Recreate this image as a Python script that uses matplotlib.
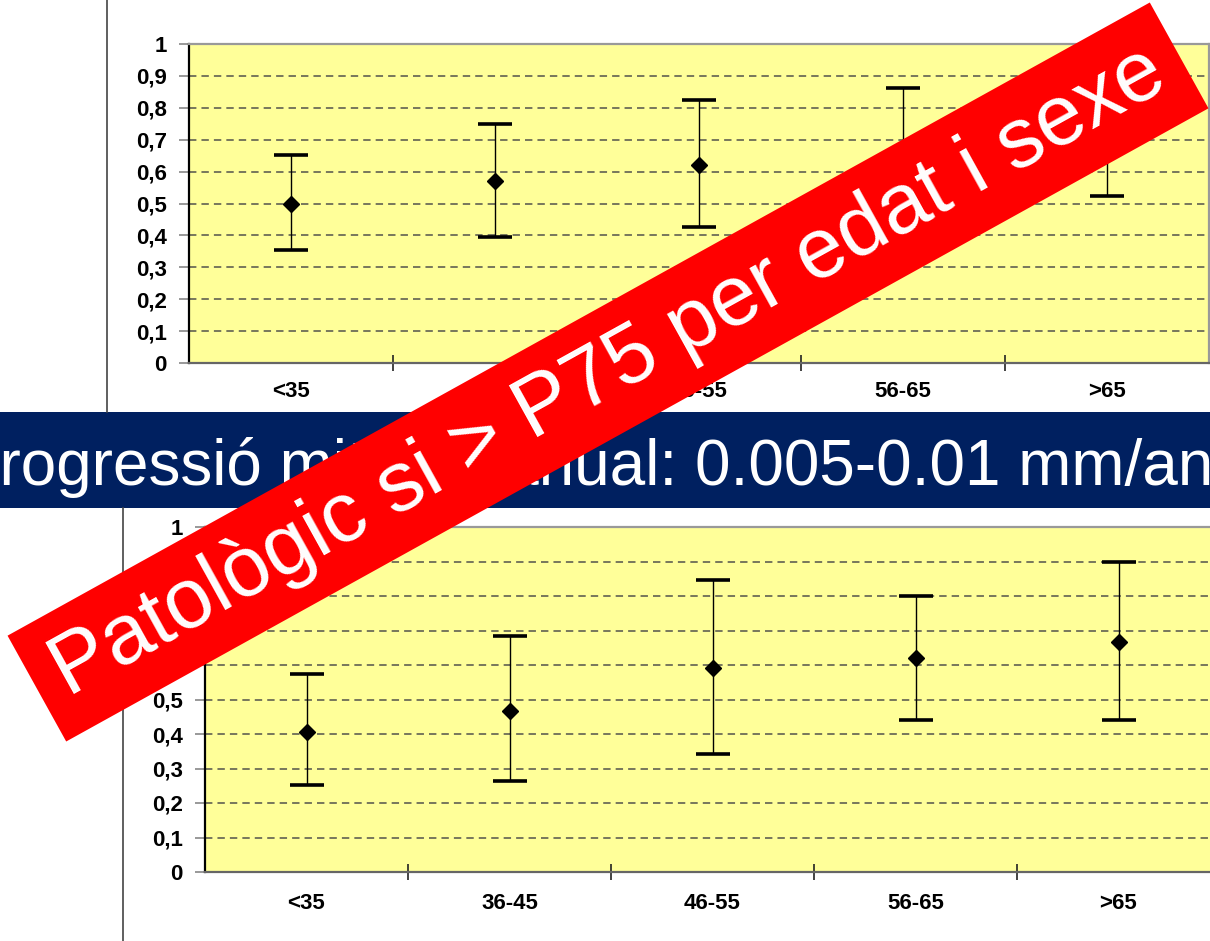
import numpy as np
import matplotlib
matplotlib.use('Agg')
import matplotlib.pyplot as plt
from matplotlib.patches import Rectangle

plt.rcParams['font.family'] = ['Liberation Sans', 'DejaVu Sans']

# Data
categories = ['<35', '36-45', '46-55', '56-65', '>65']
yticks = [0, 0.1, 0.2, 0.3, 0.4, 0.5, 0.6, 0.7, 0.8, 0.9, 1]
ytick_labels = ['0', '0,1', '0,2', '0,3', '0,4', '0,5', '0,6', '0,7', '0,8', '0,9', '1']

top_mean = [0.50, 0.57, 0.62, 0.66, 0.71]
top_low = [0.355, 0.395, 0.425, 0.46, 0.525]
top_high = [0.652, 0.749, 0.824, 0.862, 0.90]

bot_mean = [0.405, 0.467, 0.591, 0.62, 0.667]
bot_low = [0.252, 0.264, 0.342, 0.44, 0.44]
bot_high = [0.574, 0.684, 0.846, 0.80, 0.90]

band_text = 'progressió mitjana anual: 0.005-0.01 mm/any'
banner_text = 'Patològic si > P75 per edat i sexe'

W, H = 1210, 941
fig = plt.figure(figsize=(W / 100, H / 100), dpi=100)


def draw_panel(ax, mean, low, high, label_pad):
    x = np.arange(len(categories))
    mean = np.array(mean)
    err = [mean - np.array(low), np.array(high) - mean]
    ax.set_facecolor('#FFFF99')
    for y in yticks[1:-1]:
        ax.axhline(y, color='#77775c', lw=1.4, dashes=(3.8, 2.6), zorder=1)
    ax.errorbar(x, mean, yerr=err, fmt='D', color='black', ms=8,
                elinewidth=1.0, capsize=12, capthick=2.6, zorder=3)
    ax.set_xlim(-0.5, len(categories) - 0.5)
    ax.set_ylim(0, 1)
    ax.set_yticks(yticks)
    ax.set_yticklabels(ytick_labels, fontsize=16, fontweight='bold')
    ax.tick_params(axis='y', length=7, width=1.2, color='#888888', pad=9)
    ax.set_xticks(x)
    ax.set_xticklabels(categories, fontsize=16, fontweight='bold')
    ax.tick_params(axis='x', which='major', length=0, pad=label_pad)
    ax.set_xticks(np.arange(0.5, len(categories) - 0.5, 1), minor=True)
    ax.tick_params(axis='x', which='minor', direction='inout', length=12,
                   width=1.2, color='#222222')
    ax.spines['left'].set_color('black')
    ax.spines['left'].set_linewidth(1.6)
    for s in ['top', 'right', 'bottom']:
        ax.spines[s].set_color('#999999')
        ax.spines[s].set_linewidth(1.6)
    ax.spines['bottom'].set_color('#666666')


# Top panel
ax1 = fig.add_axes([189 / W, 1 - 363 / H, 1020 / W, 319 / H])
draw_panel(ax1, top_mean, top_low, top_high, 13)

# Bottom panel (right edge runs past the picture)
ax2 = fig.add_axes([205 / W, 1 - 872 / H, 1015 / W, 345 / H])
draw_panel(ax2, bot_mean, bot_low, bot_high, 15)

# Overlay in pixel coordinates for the slide decorations
ov = fig.add_axes([0, 0, 1, 1], zorder=10)
ov.set_xlim(0, W)
ov.set_ylim(0, H)
ov.axis('off')
ov.patch.set_alpha(0)

# left vertical rules
ov.plot([107, 107], [H, H - 412], color='#444444', lw=1.2)
ov.plot([123, 123], [H - 508, 0], color='#444444', lw=1.2)

# navy band with text
ov.add_patch(Rectangle((0, H - 508), W, 96, color='#002060', lw=0, zorder=1))
ov.text(-36, H - 485, band_text, color='white', fontsize=46,
        ha='left', va='baseline', zorder=2)

# red diagonal banner
cx, cy = 608, H - 372
L, T, ang = 1306, 121, 29.0
ov.add_patch(Rectangle((cx - L / 2, cy - T / 2), L, T, angle=ang,
                       rotation_point='center', color='#FF0000', lw=0, zorder=5))
ov.text(cx, cy, banner_text, color='white', fontsize=61, rotation=ang,
        rotation_mode='anchor', ha='center', va='center', zorder=6)

fig.savefig('out.png', dpi=100)
